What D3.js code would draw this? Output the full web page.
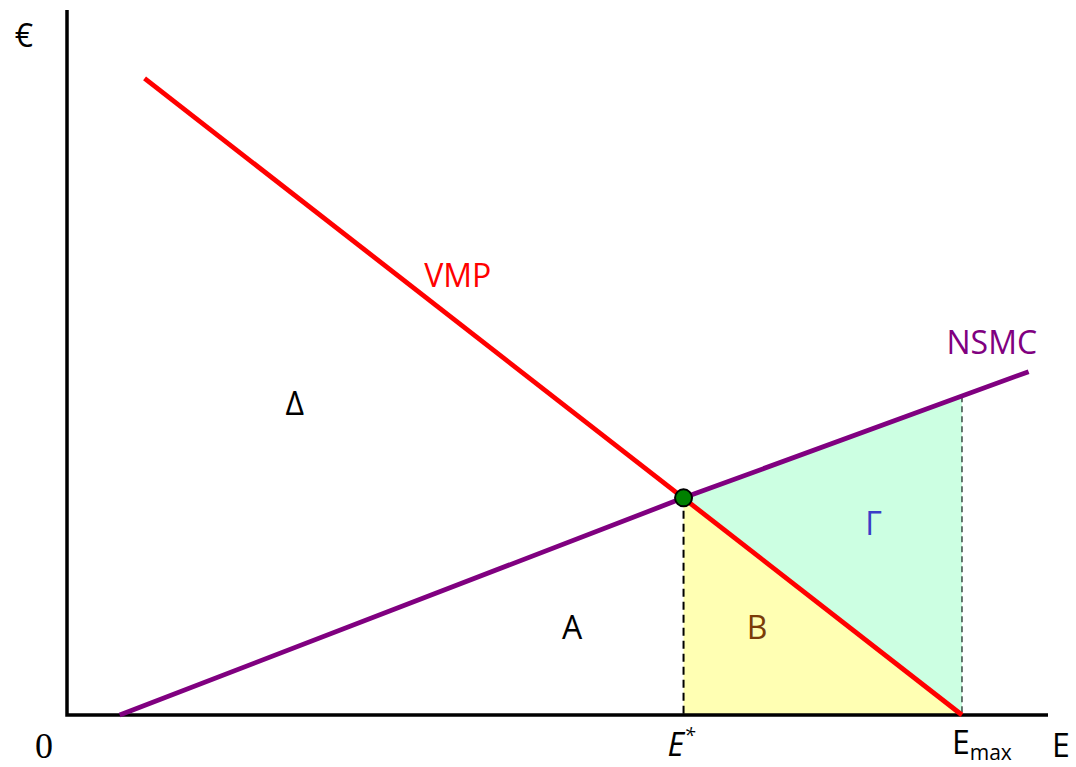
<!DOCTYPE html>
<html>
<head>
<meta charset="utf-8">
<script src="https://cdn.jsdelivr.net/npm/d3@7"></script>
<style>
  html, body { margin: 0; padding: 0; background: #fff; }
  svg { display: block; }
  text { font-family: "Open Sans", "Noto Sans", sans-serif; }
</style>
</head>
<body>
<svg id="chart"></svg>
<script>
// values (abstract units for effort E and euros)
const vmpLine = [[0.78, 9.03], [9.0, 0]];
const nsmcLine = [[0.53, 0], [6.2, 3.08], [9.67, 4.87]];
const eStar = 6.2;
const eMax = 9.0;
const equilibrium = [6.2, 3.08];
const areaB = [[6.2, 0], [6.2, 3.08], [9.0, 0]];
const areaGamma = [[6.2, 3.08], [9.0, 4.52], [9.0, 0]];
const xExtent = [0, 9.865];
const yExtent = [0, 10];
const regionNames = ["VMP", "Δ", "NSMC", "Γ", "A", "B"];
const regionX = [3.93, 2.29, 9.30, 8.11, 5.08, 6.94];
const regionY = [6.07, 4.26, 5.12, 2.55, 1.08, 1.08];
const regionColors = ["#ff0000", "#000000", "#800080", "#3c3cc8", "#000000", "#7a3c08"];

const w = 1076, h = 767;
const padLeft = 67, padRight = 1048, padTop = 10, padBottom = 715;

const x = d3.scaleLinear().domain(xExtent).range([padLeft, padRight]);
const y = d3.scaleLinear().domain(yExtent).range([padBottom, padTop]);

const svg = d3.select("#chart").attr("width", w).attr("height", h);

const line = d3.line().x(d => x(d[0])).y(d => y(d[1]));

// shaded areas
svg.append("path").attr("d", line(areaB) + "Z").attr("fill", "#ffffb3");
svg.append("path").attr("d", line(areaGamma) + "Z").attr("fill", "#ccffe2");

// dashed drop lines
svg.append("line")
   .attr("x1", x(eStar)).attr("x2", x(eStar))
   .attr("y1", y(equilibrium[1])).attr("y2", y(0))
   .attr("stroke", "#000").attr("stroke-width", 2)
   .attr("stroke-dasharray", "8,5");
svg.append("line")
   .attr("x1", x(eMax)).attr("x2", x(eMax))
   .attr("y1", y(areaGamma[1][1])).attr("y2", y(0))
   .attr("stroke", "#3a4a44").attr("stroke-width", 1.5)
   .attr("stroke-dasharray", "6,4");

// axes (plain lines, no ticks)
svg.append("path")
   .attr("d", `M${x(xExtent[0])},${y(yExtent[1])}V${y(0)}H${x(xExtent[1])}`)
   .attr("fill", "none").attr("stroke", "#000").attr("stroke-width", 3.5)
   .attr("stroke-linejoin", "miter");

// curves
svg.append("path").attr("d", line(nsmcLine))
   .attr("fill", "none").attr("stroke", "#800080").attr("stroke-width", 4.8);
svg.append("path").attr("d", line(vmpLine))
   .attr("fill", "none").attr("stroke", "#ff0000").attr("stroke-width", 4.8);

// equilibrium point
svg.append("circle")
   .attr("cx", x(equilibrium[0])).attr("cy", y(equilibrium[1])).attr("r", 8.5)
   .attr("fill", "#008000").attr("stroke", "#000").attr("stroke-width", 2);

// region and curve labels
svg.selectAll("text.region")
   .data(regionNames)
   .enter()
   .append("text")
   .attr("class", "region")
   .attr("x", (d, i) => x(regionX[i]))
   .attr("y", (d, i) => y(regionY[i]))
   .attr("text-anchor", "middle")
   .attr("font-size", 32)
   .attr("fill", (d, i) => regionColors[i])
   .text(d => d);

// axis labels
svg.append("text").attr("x", 24).attr("y", 47).attr("text-anchor", "middle")
   .attr("font-size", 32).text("€");
svg.append("text").attr("x", 44).attr("y", 758).attr("text-anchor", "middle")
   .attr("font-size", 36).style("font-family", "'Liberation Serif', serif").text("0");

const eStarLabel = svg.append("text").attr("x", x(eStar) - 16).attr("y", 756)
   .attr("font-size", 32).attr("font-style", "italic");
eStarLabel.append("tspan").text("E");
eStarLabel.append("tspan").attr("font-size", 20).attr("dy", -14).text("*");

const eMaxLabel = svg.append("text").attr("x", x(eMax) - 10).attr("y", 754)
   .attr("font-size", 32);
eMaxLabel.append("tspan").text("E");
eMaxLabel.append("tspan").attr("font-size", 21).attr("dy", 6).text("max");

svg.append("text").attr("x", 1052).attr("y", 757).attr("font-size", 32).text("E");
</script>
</body>
</html>
